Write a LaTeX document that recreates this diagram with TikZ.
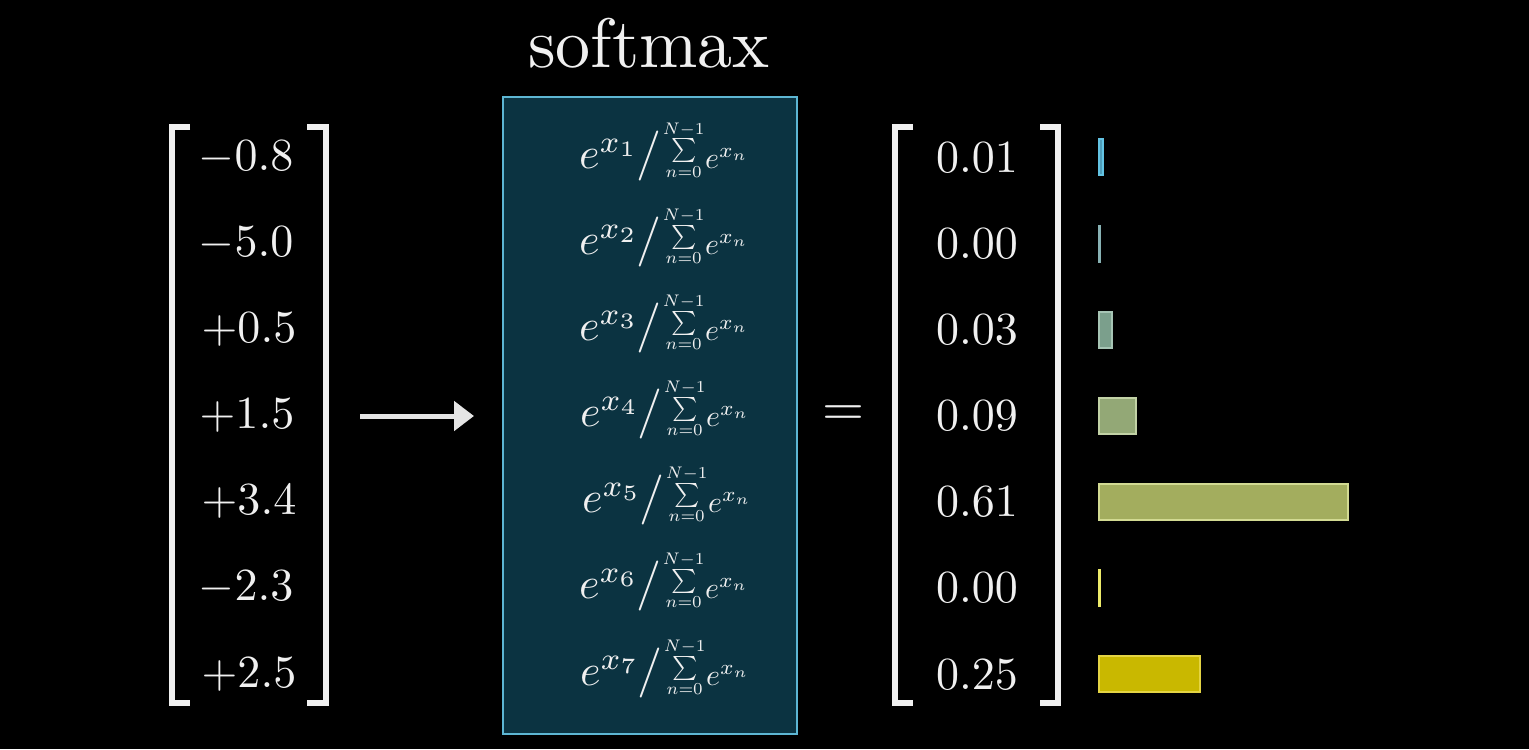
\documentclass[tikz,border=0pt]{standalone}
\usepackage{graphicx}
\usepackage{amsmath}
\usetikzlibrary{arrows.meta}
\definecolor{fg}{HTML}{F0F0F0}
\definecolor{boxfill}{HTML}{0B3341}
\definecolor{boxline}{HTML}{5DB6D3}
\definecolor{bA}{HTML}{4E9DBA}\definecolor{lA}{HTML}{63C3E3}
\definecolor{bB}{HTML}{6E9A9C}\definecolor{lB}{HTML}{88B2B4}
\definecolor{bC}{HTML}{7B9F8C}\definecolor{lC}{HTML}{A6C4B4}
\definecolor{bD}{HTML}{93A876}\definecolor{lD}{HTML}{C2D2A6}
\definecolor{bE}{HTML}{A3AD5E}\definecolor{lE}{HTML}{D2DA92}
\definecolor{bF}{HTML}{C9C630}\definecolor{lF}{HTML}{EDEB6A}
\definecolor{bG}{HTML}{C9B800}\definecolor{lG}{HTML}{E4D444}
\newcommand{\smx}[1]{\scalebox{2.2}{$e^{x_{#1}}$}\kern-1pt\scalebox{2.5}{$/$}\kern0.5pt\raisebox{5.5pt}{\scalebox{1.2}{$\sum\limits_{n=0}^{N-1}$}}\kern0.3pt\scalebox{1.5}{$e^{x_n}$}}
\newcommand{\bignum}[1]{\scalebox{2.3}{$#1$}}
\tikzset{
  num/.style={text=fg, inner sep=0pt},
  frm/.style={text=fg, inner sep=0pt, anchor=base},
  brk/.style={draw=fg, line width=2.6pt},
  bar/.style={line width=0.8pt},
}
\begin{document}
\begin{tikzpicture}[x=0.5pt,y=-0.5pt]
\fill[black] (0,0) rectangle (1529,749);
\useasboundingbox (0,0) rectangle (1529,749);
% title
\node[text=fg, anchor=base, inner sep=0pt] (title) at (649,68) {\scalebox{3.5}{softmax}};
% softmax box
\node[draw=boxline, fill=boxfill, line width=1pt, minimum width=294pt*0.5, minimum height=637pt*0.5, inner sep=0pt] (box) at (650,415.5) {};
% brackets left matrix
\draw[brk] (190,127) -- (172,127) -- (172,703) -- (190,703);
\draw[brk] (307,127) -- (326,127) -- (326,703) -- (307,703);
% brackets right matrix
\draw[brk] (913,127) -- (895,127) -- (895,703) -- (913,703);
\draw[brk] (1040,127) -- (1058,127) -- (1058,703) -- (1040,703);
% left values
\node[num] (a1) at (246,158) {\bignum{-0.8}};
\node[num] (a2) at (246,244) {\bignum{-5.0}};
\node[num] (a3) at (249,330) {\bignum{+0.5}};
\node[num] (a4) at (247,416) {\bignum{+1.5}};
\node[num] (a5) at (249,502) {\bignum{+3.4}};
\node[num] (a6) at (246,588) {\bignum{-2.3}};
\node[num] (a7) at (249,675) {\bignum{+2.5}};
% formulas
\node[frm] (f1) at (664,168) {\smx{1}};
\node[frm] (f2) at (664,254) {\smx{2}};
\node[frm] (f3) at (664,340) {\smx{3}};
\node[frm] (f4) at (665,426) {\smx{4}};
\node[frm] (f5) at (667,512) {\smx{5}};
\node[frm] (f6) at (664,598) {\smx{6}};
\node[frm] (f7) at (665,685) {\smx{7}};
% right values
\node[num] (r1) at (977,158) {\bignum{0.01}};
\node[num] (r2) at (977,244) {\bignum{0.00}};
\node[num] (r3) at (977,330) {\bignum{0.03}};
\node[num] (r4) at (977,416) {\bignum{0.09}};
\node[num] (r5) at (977,502) {\bignum{0.61}};
\node[num] (r6) at (977,588) {\bignum{0.00}};
\node[num] (r7) at (977,675) {\bignum{0.25}};
% arrow and equals
\coordinate (arrS) at (360,416);
\coordinate (arrE) at (474,416);
\draw[draw=fg!90!gray, line width=2.5pt, -{Triangle[length=20*0.5pt, width=29*0.5pt]}] (arrS) -- (arrE);
\node[text=fg, inner sep=0pt] (eq) at (843,416) {\scalebox{2.7}{$=$}};
% bars
\draw[bar, fill=bA, draw=lA] (1099,139) rectangle (1103,175);
\draw[bar, fill=bB, draw=lB] (1099,226) rectangle (1100,262);
\draw[bar, fill=bC, draw=lC] (1099,312) rectangle (1112,348);
\draw[bar, fill=bD, draw=lD] (1099,398) rectangle (1136,434);
\draw[bar, fill=bE, draw=lE] (1099,484) rectangle (1348,520);
\draw[bar, fill=bF, draw=lF] (1099,570) rectangle (1100,606);
\draw[bar, fill=bG, draw=lG] (1099,656) rectangle (1200,692);
\end{tikzpicture}
\end{document}
